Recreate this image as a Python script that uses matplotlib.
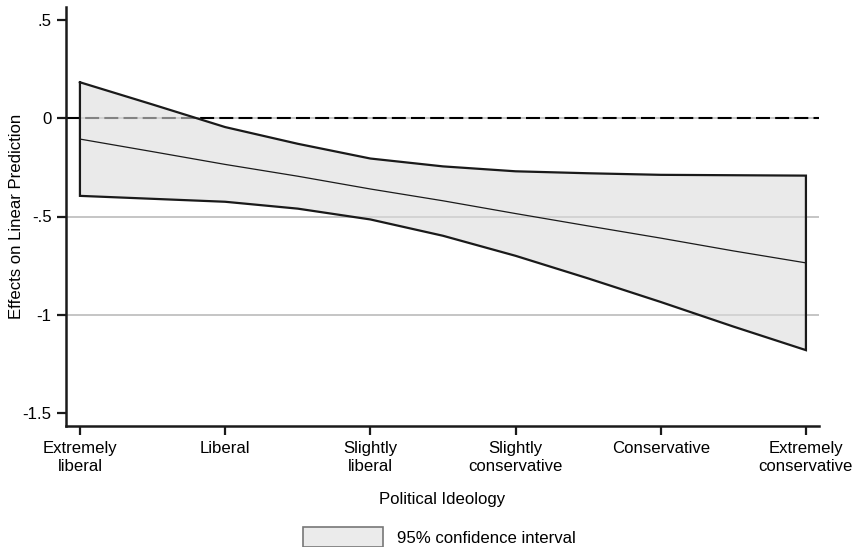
import numpy as np
import matplotlib.pyplot as plt
from matplotlib.patches import Patch

plt.rcParams['font.family'] = ['Liberation Sans', 'DejaVu Sans']

# ideology categories (x positions 0..5, estimates also at half steps)
categories = ['Extremely\nliberal', 'Liberal', 'Slightly\nliberal',
              'Slightly\nconservative', 'Conservative', 'Extremely\nconservative']
xpos = [0, 0.5, 1, 1.5, 2, 2.5, 3, 3.5, 4, 4.5, 5]

upper = [0.183, 0.07, -0.045, -0.13, -0.205, -0.245, -0.27, -0.28, -0.288, -0.29, -0.292]
lower = [-0.395, -0.41, -0.425, -0.46, -0.515, -0.598, -0.70, -0.815, -0.935, -1.06, -1.18]
center = [-0.106, -0.17, -0.235, -0.295, -0.36, -0.42, -0.485, -0.548, -0.61, -0.675, -0.736]

yticks = [0.5, 0, -0.5, -1, -1.5]
ytick_labels = ['.5', '0', '-.5', '-1', '-1.5']

fs = 12.1

fig = plt.figure(figsize=(8.54, 5.47), dpi=100)
ax = fig.add_axes([66/854, 1-426/547, (819-66)/854, (426-7)/547])

# grid lines (only some of them shown in the original)
for yv in [0, -0.5, -1]:
    ax.axhline(yv, color='#c0c0c0', lw=1.3, zorder=1)
ax.axhline(0, color='black', lw=1.5, dashes=(6.7, 2.5), zorder=1.5)

# confidence band
ax.fill_between(xpos, lower, upper, facecolor='#dcdcdc', alpha=0.6,
                edgecolor='none', zorder=2)
ox = list(xpos) + list(xpos[::-1]) + [xpos[0]]
oy = list(upper) + list(lower[::-1]) + [upper[0]]
ax.plot(ox, oy, color='#1a1a1a', lw=1.6, zorder=3, solid_joinstyle='miter')
ax.plot(xpos, center, color='#1a1a1a', lw=0.9, zorder=3)

ax.set_xlim(-0.096, 5.09)
ax.set_ylim(-1.566, 0.566)

ax.set_xticks(range(len(categories)))
ax.set_xticklabels(categories, fontsize=fs, linespacing=1.3)
ax.set_yticks(yticks)
ax.set_yticklabels(ytick_labels, fontsize=fs)
ax.tick_params(axis='both', length=6.5, width=1.6, color='#1a1a1a', pad=4)

for s in ['top', 'right']:
    ax.spines[s].set_visible(False)
for s in ['left', 'bottom']:
    ax.spines[s].set_linewidth(1.8)
    ax.spines[s].set_color('#1a1a1a')

ax.set_xlabel('Political Ideology', fontsize=fs, labelpad=13)
ax.set_ylabel('Effects on Linear Prediction', fontsize=fs)
ax.yaxis.set_label_coords(-0.056, 0.5)

handle = Patch(facecolor='#ebebeb', edgecolor='#777777', lw=1.2)
fig.legend([handle], ['95% confidence interval'], loc='center',
           bbox_to_anchor=(0.514, 0.018), frameon=False, fontsize=fs,
           handlelength=4.8, handleheight=1.5, handletextpad=0.8)

fig.savefig('out.png', dpi=100)
